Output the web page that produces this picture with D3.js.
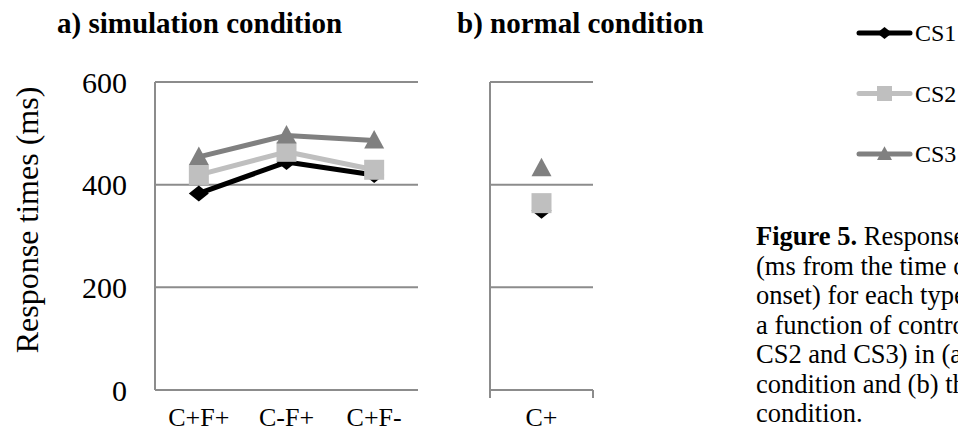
<!DOCTYPE html>
<html>
<head>
<meta charset="utf-8">
<script src="https://cdn.jsdelivr.net/npm/d3@7"></script>
<style>
  html, body { margin: 0; padding: 0; background: #fff; overflow: hidden; }
  svg { display: block; font-family: "Liberation Serif", "Times New Roman", serif; }
</style>
</head>
<body>
<svg id="chart" width="958" height="434"></svg>
<script>
// Response times (ms) by control type
const categoriesA = ["C+F+", "C-F+", "C+F-"];
const categoriesB = ["C+"];
const seriesNames = ["CS1", "CS2", "CS3"];
const simCS1 = [383, 444, 419];
const simCS2 = [419, 464, 429];
const simCS3 = [454, 496, 486];
const normCS1 = [349];
const normCS2 = [364];
const normCS3 = [432];
const yTicks = [0, 200, 400, 600];
const captionLines = [
  ["Figure 5.", " Response"],
  ["", "(ms from the time o"],
  ["", "onset) for each type"],
  ["", "a function of contro"],
  ["", "CS2 and CS3) in (a"],
  ["", "condition and (b) th"],
  ["", "condition."]
];

const colors = { CS1: "#000000", CS2: "#bfbfbf", CS3: "#808080" };
const gridColor = "#8c8c8c";

const svg = d3.select("#chart");

const y = d3.scaleLinear().domain([0, 600]).range([390, 82]);
const xA = d3.scaleBand().domain(categoriesA).range([155, 418]);
const xB = d3.scaleBand().domain(categoriesB).range([490, 593]);

// marker shapes centred on (0,0)
function markerPath(kind, s) {
  const p = d3.path();
  if (kind === "CS1") {            // diamond
    p.moveTo(0, -s * 0.8); p.lineTo(s, 0); p.lineTo(0, s * 0.8); p.lineTo(-s, 0); p.closePath();
  } else if (kind === "CS2") {     // square
    p.rect(-s, -s, 2 * s, 2 * s);
  } else {                          // triangle
    p.moveTo(0, -s * 1.05); p.lineTo(s, s * 0.8); p.lineTo(-s, s * 0.8); p.closePath();
  }
  return p.toString();
}

// panel titles
svg.append("text").attr("x", 57).attr("y", 33)
  .attr("font-size", 29).attr("font-weight", "bold").text("a) simulation condition");
svg.append("text").attr("x", 457).attr("y", 33)
  .attr("font-size", 29).attr("font-weight", "bold").text("b) normal condition");

// y-axis title
svg.append("text")
  .attr("transform", "translate(38,220) rotate(-90)")
  .attr("text-anchor", "middle").attr("font-size", 32)
  .text("Response times (ms)");

// y tick labels
const yLab = svg.append("g").attr("transform", "translate(155,0)")
  .call(d3.axisLeft(y).tickValues(yTicks).tickSize(0).tickPadding(28).tickFormat(d3.format("d")));
yLab.select(".domain").remove();
yLab.selectAll("text").attr("font-size", 30).attr("font-family", "Liberation Serif, Times New Roman, serif")
  .attr("fill", "#000").attr("dy", "0.34em");

function drawPanel(x0, x1, ticksDown) {
  const g = svg.append("g");
  // horizontal gridlines
  g.selectAll("line.grid").data(yTicks.filter(d => d > 0)).join("line")
    .attr("x1", x0).attr("x2", x1)
    .attr("y1", d => y(d)).attr("y2", d => y(d))
    .attr("stroke", gridColor).attr("stroke-width", 2);
  // value axis
  g.append("line").attr("x1", x0).attr("x2", x0)
    .attr("y1", y(600)).attr("y2", y(0) + (ticksDown ? 8 : 0))
    .attr("stroke", gridColor).attr("stroke-width", 2);
  // category axis
  g.append("line").attr("x1", x0).attr("x2", x1)
    .attr("y1", y(0)).attr("y2", y(0))
    .attr("stroke", gridColor).attr("stroke-width", 2);
  if (ticksDown) {
    g.append("line").attr("x1", x1).attr("x2", x1)
      .attr("y1", y(0)).attr("y2", y(0) + 8)
      .attr("stroke", gridColor).attr("stroke-width", 2);
  }
}
drawPanel(155, 418, false);
drawPanel(490, 593, true);

// category labels
function catLabels(scale, cats) {
  svg.append("g").selectAll("text").data(cats).join("text")
    .attr("x", d => scale(d) + scale.bandwidth() / 2)
    .attr("y", 426).attr("text-anchor", "middle").attr("font-size", 26)
    .text(d => d);
}
catLabels(xA, categoriesA);
catLabels(xB, categoriesB);

// data series
const simData = { CS1: simCS1, CS2: simCS2, CS3: simCS3 };
const normData = { CS1: normCS1, CS2: normCS2, CS3: normCS3 };

seriesNames.forEach(name => {
  const ptsA = categoriesA.map((c, i) => [xA(c) + xA.bandwidth() / 2, y(simData[name][i])]);
  svg.append("path")
    .attr("d", d3.line()(ptsA))
    .attr("fill", "none").attr("stroke", colors[name]).attr("stroke-width", 5)
    .attr("stroke-linejoin", "round");
  svg.append("g").selectAll("path").data(ptsA).join("path")
    .attr("transform", d => `translate(${d[0]},${d[1]})`)
    .attr("d", markerPath(name, 10)).attr("fill", colors[name]);

  const ptsB = categoriesB.map((c, i) => [xB(c) + xB.bandwidth() / 2, y(normData[name][i])]);
  svg.append("g").selectAll("path").data(ptsB).join("path")
    .attr("transform", d => `translate(${d[0]},${d[1]})`)
    .attr("d", markerPath(name, 10)).attr("fill", colors[name]);
});

// legend
const legendY = d3.scalePoint().domain(seriesNames).range([33, 154]);
const leg = svg.append("g");
seriesNames.forEach(name => {
  const ly = legendY(name);
  leg.append("line").attr("x1", 859).attr("x2", 910).attr("y1", ly).attr("y2", ly)
    .attr("stroke", colors[name]).attr("stroke-width", 5).attr("stroke-linecap", "round");
  leg.append("path").attr("transform", `translate(884.5,${ly})`)
    .attr("d", markerPath(name, 7.5)).attr("fill", colors[name]);
  leg.append("text").attr("x", 915).attr("y", ly + 8).attr("font-size", 24).text(name);
});

// caption
const cap = svg.append("text").attr("font-size", 26.5);
captionLines.forEach((ln, i) => {
  const t = cap.append("tspan").attr("x", 756).attr("y", 245 + i * 29.5);
  if (ln[0]) t.append("tspan").attr("font-weight", "bold").text(ln[0]);
  t.append("tspan").text(ln[1]);
});
</script>
</body>
</html>
